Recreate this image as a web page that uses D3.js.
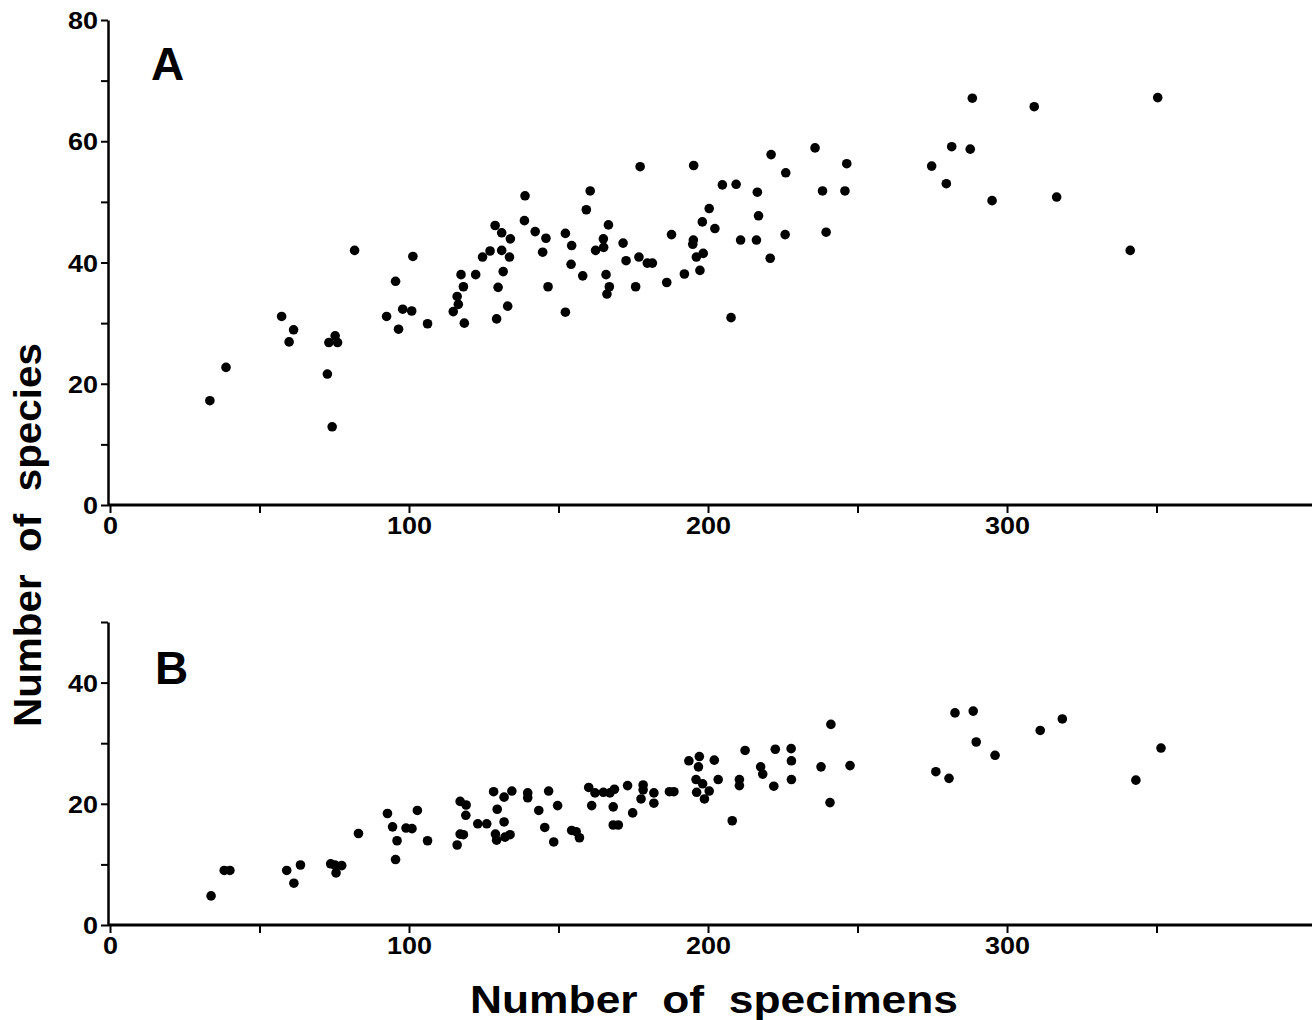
<!DOCTYPE html>
<html>
<head>
<meta charset="utf-8">
<script src="https://cdn.jsdelivr.net/npm/d3@7"></script>
<style>
  html, body { margin: 0; padding: 0; background: #fff; }
  svg { display: block; }
  text { font-family: "Liberation Sans", Arial, sans-serif; font-weight: bold; fill: #000; }
</style>
</head>
<body>
<svg id="chart" width="1312" height="1020"></svg>
<script>
// ---------- DATA ----------
const panelA_x = [33.4,38.8,57.4,59.9,61.4,72.7,73.2,75.3,76.1,74.3,81.8,92.5,95.5,97.9,100.9,96.5,106.2,101.3,
  117.4,122.3,118.2,116.1,116.5,114.8,118.5,124.6,127.1,128.8,131.0,133.9,131.0,133.6,131.5,129.8,133.0,129.3,
  138.8,138.6,142.2,145.8,144.7,146.5,152.3,152.3,154.4,154.2,158.1,159.3,160.6,166.7,165.0,165.1,162.4,165.9,
  167.0,166.2,177.3,171.6,172.6,176.9,179.7,181.4,175.8,186.2,187.8,192.1,195.2,195.1,194.9,198.1,200.4,202.3,
  198.4,196.1,197.3,204.8,209.4,207.7,210.9,216.2,220.8,216.5,216.9,221.1,226.0,225.8,235.8,238.3,239.5,246.4,
  245.8,288.4,309.1,350.4,281.5,287.7,274.8,279.7,295.0,316.6,341.2];
const panelA_y = [17.2,22.7,31.1,26.9,28.9,21.6,26.8,27.9,26.8,12.9,42.0,31.1,36.9,32.3,32.0,29.0,29.9,41.0,
  38.0,38.0,36.0,34.4,33.1,31.9,30.0,40.9,41.9,46.1,44.9,43.9,42.0,40.9,38.5,35.9,32.8,30.7,
  51.0,46.9,45.1,44.0,41.7,36.0,31.8,44.8,42.8,39.7,37.8,48.7,51.8,46.2,43.9,42.5,42.0,38.0,
  36.0,34.8,55.8,43.2,40.3,40.9,39.9,39.9,36.0,36.7,44.6,38.1,56.0,43.7,43.0,46.7,48.9,45.6,
  41.5,40.9,38.7,52.8,52.9,30.9,43.7,43.7,40.7,51.6,47.7,57.8,54.8,44.6,58.9,51.8,45.0,56.3,
  51.8,67.1,65.7,67.2,59.1,58.7,55.9,53.0,50.2,50.8,42.0];

const panelB_x = [33.8,38.2,40.1,59.1,61.5,63.7,73.8,75.2,77.5,75.6,83.1,92.8,94.5,96.0,95.5,99.0,101.0,102.8,106.2,
  117.1,119.1,119.0,123.0,126.0,117.1,118.2,116.1,128.3,129.5,131.8,134.4,131.8,128.9,129.3,132.1,133.8,
  139.7,139.7,146.7,143.4,149.7,145.4,148.4,154.4,155.9,157.0,160.1,162.2,165.0,167.2,168.7,161.1,168.3,
  168.3,170.0,173.1,174.8,178.3,178.3,177.6,181.9,181.9,187.1,188.6,193.6,197.1,196.8,202.1,196.0,198.2,
  196.2,200.4,198.8,203.4,208.1,210.5,210.5,212.4,217.6,218.3,222.0,222.5,227.8,227.9,227.9,237.8,241.1,
  240.8,247.5,276.2,280.6,282.6,288.7,289.7,296.0,311.1,318.5,343.1,351.5];
const panelB_y = [4.8,9.0,9.0,9.0,6.9,9.9,10.1,9.9,9.8,8.6,15.1,18.4,16.2,13.9,10.8,16.0,15.9,18.9,13.9,
  20.4,19.8,18.1,16.7,16.7,15.0,14.9,13.2,22.0,19.1,21.1,22.1,17.0,15.0,14.0,14.5,14.9,
  21.8,21.0,22.1,18.9,19.7,16.1,13.7,15.6,15.4,14.4,22.7,21.8,21.9,21.8,22.4,19.7,19.5,
  16.5,16.5,23.0,18.5,23.1,22.3,20.8,21.8,20.1,22.0,22.0,27.1,27.8,26.1,27.2,24.0,23.3,
  21.9,22.1,20.8,24.0,17.2,24.0,23.0,28.8,26.1,24.9,22.9,29.0,29.1,27.1,24.0,26.1,33.1,
  20.2,26.3,25.3,24.2,35.0,35.3,30.2,28.0,32.1,34.0,23.9,29.2];

const xTicks = [0,50,100,150,200,250,300,350];
const xTickLabels = [0,100,200,300];
const yTicksA = [0,10,20,30,40,50,60,70,80];
const yTickLabelsA = [0,20,40,60,80];
const yTicksB = [0,10,20,30,40,50];
const yTickLabelsB = [0,20,40];
const panelLabels = ["A","B"];
const xTitle = "Number  of  specimens";
const yTitle = "Number  of  species";

// ---------- DRAW ----------
const svg = d3.select("#chart");
svg.append("rect").attr("width",1312).attr("height",1020).attr("fill","#fff");

const x = d3.scaleLinear().domain([0,402]).range([110,1312]);

function styleLabels(sel) {
  sel.attr("font-size",24)
    .each(function() {
      const t = d3.select(this);
      const s = t.text();
      if (s) t.attr("textLength", s.length * 15).attr("lengthAdjust","spacingAndGlyphs");
    });
}

function panel(xs, ys, yDomain, yRange, yTicks, yLabels, label, labelPos) {
  const y = d3.scaleLinear().domain(yDomain).range(yRange);
  const g = svg.append("g");

  const xAxis = d3.axisBottom(x).tickValues(xTicks).tickSize(8).tickSizeOuter(0).tickPadding(4)
    .tickFormat(d => xTickLabels.includes(d) ? d : "");
  const gx = g.append("g").attr("transform", `translate(0,${y(0)})`).call(xAxis);
  gx.select(".domain").attr("stroke","#000").attr("stroke-width",3).attr("d", `M108,0H1312`);
  gx.selectAll(".tick line").attr("stroke","#000").attr("stroke-width",2);
  gx.selectAll(".tick text").attr("dy","0.72em").call(styleLabels);

  const yAxis = d3.axisLeft(y).tickValues(yTicks).tickSize(7).tickSizeOuter(0).tickPadding(3)
    .tickFormat(d => yLabels.includes(d) ? d : "");
  const gy = g.append("g").attr("transform", `translate(108,0)`).call(yAxis);
  gy.select(".domain").attr("stroke","#000").attr("stroke-width",2.5);
  gy.selectAll(".tick line").attr("stroke","#000").attr("stroke-width",2);
  gy.selectAll(".tick text").attr("dy","0.36em").call(styleLabels);

  g.append("g").selectAll("circle").data(xs.map((v,i)=>[v, ys[i]])).join("circle")
    .attr("cx", d => x(d[0])).attr("cy", d => y(d[1])).attr("r", 4.8).attr("fill","#000");

  g.append("text").attr("x", labelPos[0]).attr("y", labelPos[1]).attr("font-size",46).text(label);
}

panel(panelA_x, panelA_y, [0,80], [505,20], yTicksA, yTickLabelsA, panelLabels[0], [151,80]);
panel(panelB_x, panelB_y, [0,50], [925,622], yTicksB, yTickLabelsB, panelLabels[1], [155,684]);

svg.append("text").attr("x", 714).attr("y", 1013).attr("text-anchor","middle")
  .attr("font-size",39).style("white-space","pre")
  .attr("textLength",488).attr("lengthAdjust","spacingAndGlyphs").text(xTitle);
svg.append("text").attr("transform","translate(41,535) rotate(-90)").attr("text-anchor","middle")
  .attr("font-size",38).style("white-space","pre")
  .attr("textLength",384).attr("lengthAdjust","spacingAndGlyphs").text(yTitle);
</script>
</body>
</html>
